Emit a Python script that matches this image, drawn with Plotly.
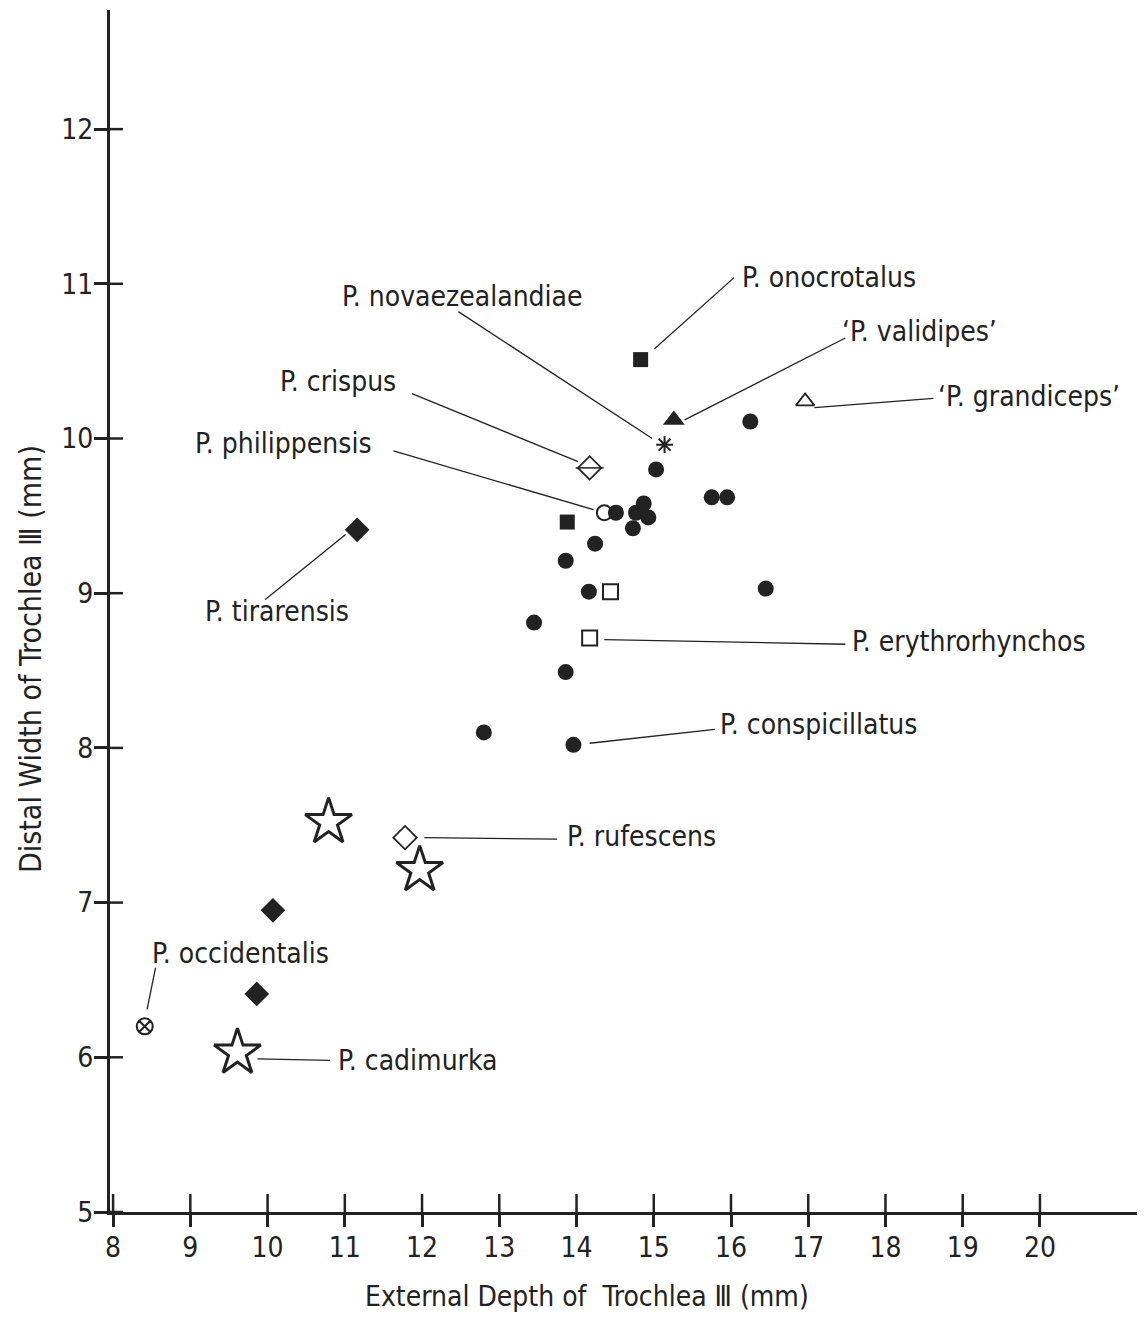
import plotly.graph_objects as go

# ---------------- data ----------------
# P. conspicillatus (filled circles)
consp_x = [12.80, 13.96, 13.86, 13.45, 14.16, 13.86, 14.24, 14.51, 14.73, 14.77,
           14.87, 14.93, 15.03, 15.75, 15.95, 16.25, 16.45]
consp_y = [8.10, 8.02, 8.49, 8.81, 9.01, 9.21, 9.32, 9.52, 9.42, 9.52,
           9.58, 9.49, 9.80, 9.62, 9.62, 10.11, 9.03]
# P. onocrotalus (filled squares)
onoc_x = [14.83, 13.88]
onoc_y = [10.51, 9.46]
# P. erythrorhynchos (open squares)
eryth_x = [14.44, 14.17]
eryth_y = [9.01, 8.71]
# P. philippensis (open circle)
phil_x = [14.36]
phil_y = [9.52]
# P. crispus (diamond with bar)
crisp_x = [14.17]
crisp_y = [9.81]
# P. novaezealandiae (asterisk)
novae_x = [15.14]
novae_y = [9.96]
# 'P. validipes' (filled triangle)
valid_x = [15.26]
valid_y = [10.12]
# 'P. grandiceps' (open triangle)
grand_x = [16.96]
grand_y = [10.24]
# P. tirarensis (filled diamonds)
tirar_x = [11.16, 10.07, 9.86]
tirar_y = [9.41, 6.95, 6.41]
# P. cadimurka (open stars)
cadim_x = [10.79, 11.97, 9.61]
cadim_y = [7.52, 7.21, 6.03]
# P. rufescens (open diamond)
rufes_x = [11.78]
rufes_y = [7.42]
# P. occidentalis (circled cross)
occid_x = [8.41]
occid_y = [6.20]

x_ticks = list(range(8, 21))
y_ticks = list(range(5, 13))

x_title = "External Depth of  Trochlea Ⅲ (mm)"
y_title = "Distal Width of Trochlea Ⅲ (mm)"

# labels: text, label anchor (left, middle), leader line start and end
labels = [
    ("P. onocrotalus", 16.12, 11.04, (15.01, 10.58), (16.04, 11.04)),
    ("P. novaezealandiae", 10.94, 10.92, (12.47, 10.82), (14.98, 10.00)),
    ("‘P. validipes’", 17.41, 10.69, (15.40, 10.12), (17.48, 10.65)),
    ("‘P. grandiceps’", 18.66, 10.27, (17.08, 10.20), (18.62, 10.26)),
    ("P. crispus", 10.14, 10.37, (11.87, 10.29), (14.02, 9.85)),
    ("P. philippensis", 9.04, 9.97, (11.63, 9.92), (14.22, 9.54)),
    ("P. tirarensis", 9.17, 8.88, (9.97, 8.96), (11.01, 9.38)),
    ("P. erythrorhynchos", 17.54, 8.69, (14.36, 8.70), (17.48, 8.67)),
    ("P. conspicillatus", 15.83, 8.15, (14.17, 8.03), (15.79, 8.12)),
    ("P. rufescens", 13.85, 7.43, (12.03, 7.42), (13.75, 7.41)),
    ("P. occidentalis", 8.48, 6.67, (8.55, 6.58), (8.44, 6.31)),
    ("P. cadimurka", 10.89, 5.98, (9.87, 5.99), (10.81, 5.98)),
]

INK = "#222222"
FONT = "Liberation Sans Narrow, DejaVu Sans Condensed, Roboto, sans-serif"

fig = go.Figure()

def add(x, y, symbol, size, filled=True, lw=2):
    fig.add_trace(go.Scatter(
        x=x, y=y, mode="markers", showlegend=False, hoverinfo="skip",
        marker=dict(symbol=symbol, size=size, color=INK,
                    line=dict(color=INK, width=lw if not filled else 0))))

add(consp_x, consp_y, "circle", 16)
add(onoc_x, onoc_y, "square", 15)
add(eryth_x, eryth_y, "square-open", 15, filled=False)
add(phil_x, phil_y, "circle-open", 15, filled=False)
add(crisp_x, crisp_y, "diamond-open", 18, filled=False, lw=1.8)
add(crisp_x, crisp_y, "line-ew-open", 20, filled=False, lw=1.5)
add(novae_x, novae_y, "asterisk-open", 14, filled=False, lw=2)
add(valid_x, valid_y, "triangle-up", 19)
add(grand_x, grand_y, "triangle-up-open", 16, filled=False, lw=1.8)
add(tirar_x, tirar_y, "diamond", 19)
add(cadim_x, cadim_y, "star-open", 35, filled=False, lw=3)
add(rufes_x, rufes_y, "diamond-open", 18, filled=False, lw=1.8)
add(occid_x, occid_y, "circle-x-open", 16, filled=False, lw=2)

x_range = [7.96, 21.36]
y_range = [5.0, 12.77]

shapes = []
for (_, _, _, p0, p1) in labels:
    shapes.append(dict(type="line", xref="x", yref="y",
                       x0=p0[0], y0=p0[1], x1=p1[0], y1=p1[1],
                       line=dict(color=INK, width=1.3)))
# inner halves of the crossing tick marks
for t in x_ticks:
    shapes.append(dict(type="line", xref="x", yref="y", ysizemode="pixel",
                       yanchor=y_range[0], x0=t, x1=t, y0=0, y1=18,
                       line=dict(color=INK, width=2.5)))
for t in y_ticks:
    shapes.append(dict(type="line", yref="y", xref="x", xsizemode="pixel",
                       xanchor=x_range[0], y0=t, y1=t, x0=0, x1=13,
                       line=dict(color=INK, width=2.5)))

annotations = []
for (txt, lx, ly, _, _) in labels:
    annotations.append(dict(x=lx, y=ly, xref="x", yref="y", text=txt,
                            showarrow=False, xanchor="left", yanchor="middle",
                            font=dict(family=FONT, size=28, color=INK)))
# axis titles
annotations.append(dict(x=0.461, y=0, xref="paper", yref="paper", text=x_title,
                        showarrow=False, xanchor="center", yanchor="top", yshift=-66,
                        font=dict(family=FONT, size=28, color=INK)))
annotations.append(dict(x=0, y=0.46, xref="paper", yref="paper", text=y_title,
                        showarrow=False, xanchor="center", yanchor="middle",
                        textangle=-90, xshift=-80,
                        font=dict(family=FONT, size=30, color=INK)))

fig.update_layout(
    width=1137, height=1310,
    margin=dict(l=102, r=0, t=2, b=106),
    paper_bgcolor="white", plot_bgcolor="white",
    shapes=shapes, annotations=annotations,
    font=dict(family=FONT, color=INK),
    xaxis=dict(range=x_range, tickvals=x_ticks, ticktext=[str(t) for t in x_ticks],
               showgrid=False, zeroline=False, showline=True, linewidth=3,
               linecolor=INK, ticks="outside", ticklen=12, tickwidth=2.5,
               tickcolor=INK, tickfont=dict(size=28, family=FONT, color=INK),
               ticklabelstandoff=-4),
    yaxis=dict(range=y_range, tickvals=y_ticks, ticktext=[str(t) for t in y_ticks],
               showgrid=False, zeroline=False, showline=True, linewidth=3,
               linecolor=INK, ticks="outside", ticklen=13, tickwidth=2.5,
               tickcolor=INK, tickfont=dict(size=28, family=FONT, color=INK),
               ticklabelstandoff=-5),
)

fig.write_html("out.html")
